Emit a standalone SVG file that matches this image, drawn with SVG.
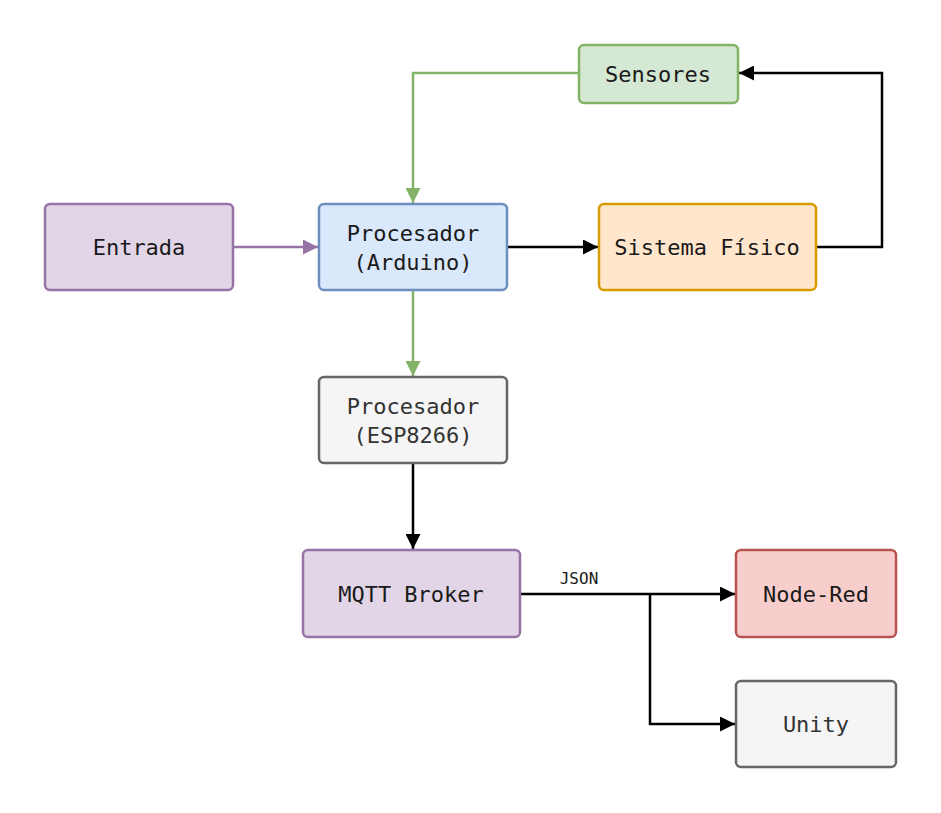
<svg xmlns="http://www.w3.org/2000/svg" width="941" height="813" viewBox="0 0 941 813">
<style>
.n{stroke-width:2.5}
.t{font-family:"DejaVu Sans Mono","Liberation Mono",monospace;font-size:22px;fill:#1a1a1a;text-anchor:middle;dominant-baseline:central}
.e{fill:none;stroke-width:2.5}
</style>
<defs>
<marker id="ak" viewBox="0 0 10 10" refX="10" refY="5" markerWidth="6" markerHeight="6" orient="auto" markerUnits="strokeWidth"><path d="M0,0 L10,5 L0,10 Z" fill="#000"/></marker>
<marker id="ag" viewBox="0 0 10 10" refX="10" refY="5" markerWidth="6" markerHeight="6" orient="auto" markerUnits="strokeWidth"><path d="M0,0 L10,5 L0,10 Z" fill="#82b366"/></marker>
<marker id="ap" viewBox="0 0 10 10" refX="10" refY="5" markerWidth="6" markerHeight="6" orient="auto" markerUnits="strokeWidth"><path d="M0,0 L10,5 L0,10 Z" fill="#9673a6"/></marker>
</defs>
<rect width="941" height="813" fill="#fff"/>
<g id="edges">
<path class="e" stroke="#9673a6" d="M233,247 H318" marker-end="url(#ap)"/>
<path class="e" stroke="#82b366" d="M579,73 H413 V203" marker-end="url(#ag)"/>
<path class="e" stroke="#000" d="M507,247 H598" marker-end="url(#ak)"/>
<path class="e" stroke="#000" d="M816,247 H882 V73 H739" marker-end="url(#ak)"/>
<path class="e" stroke="#82b366" d="M413,290 V376" marker-end="url(#ag)"/>
<path class="e" stroke="#000" d="M413,463 V549" marker-end="url(#ak)"/>
<path class="e" stroke="#000" d="M520,594 H735" marker-end="url(#ak)"/>
<path class="e" stroke="#000" d="M650,594 V724 H735" marker-end="url(#ak)"/>
<text x="579" y="584" style="font-family:'DejaVu Sans Mono','Liberation Mono',monospace;font-size:16px;fill:#1a1a1a;text-anchor:middle">JSON</text>
</g>
<g id="entrada"><rect class="n" x="45" y="204" width="188" height="86" rx="5" fill="#e1d5e7" stroke="#9673a6"/><text class="t" x="139" y="247">Entrada</text></g>
<g id="arduino"><rect class="n" x="319" y="204" width="188" height="86" rx="5" fill="#dae8fc" stroke="#6c8ebf"/><text class="t" x="413" y="233">Procesador</text><text class="t" x="413" y="262">(Arduino)</text></g>
<g id="sistema"><rect class="n" x="599" y="204" width="217" height="86" rx="5" fill="#ffe6cc" stroke="#d79b00"/><text class="t" x="707" y="247">Sistema Físico</text></g>
<g id="sensores"><rect class="n" x="579" y="45" width="159" height="58" rx="5" fill="#d5e8d4" stroke="#82b366"/><text class="t" x="658" y="74">Sensores</text></g>
<g id="esp"><rect class="n" x="319" y="377" width="188" height="86" rx="5" fill="#f5f5f5" stroke="#666666"/><text class="t" x="413" y="406" style="fill:#333">Procesador</text><text class="t" x="413" y="435" style="fill:#333">(ESP8266)</text></g>
<g id="mqtt"><rect class="n" x="303" y="550" width="217" height="87" rx="5" fill="#e1d5e7" stroke="#9673a6"/><text class="t" x="411" y="594">MQTT Broker</text></g>
<g id="nodered"><rect class="n" x="736" y="550" width="160" height="87" rx="5" fill="#f8cecc" stroke="#b85450"/><text class="t" x="816" y="594">Node-Red</text></g>
<g id="unity"><rect class="n" x="736" y="681" width="160" height="86" rx="5" fill="#f5f5f5" stroke="#666666"/><text class="t" x="816" y="724" style="fill:#333">Unity</text></g>
</svg>
